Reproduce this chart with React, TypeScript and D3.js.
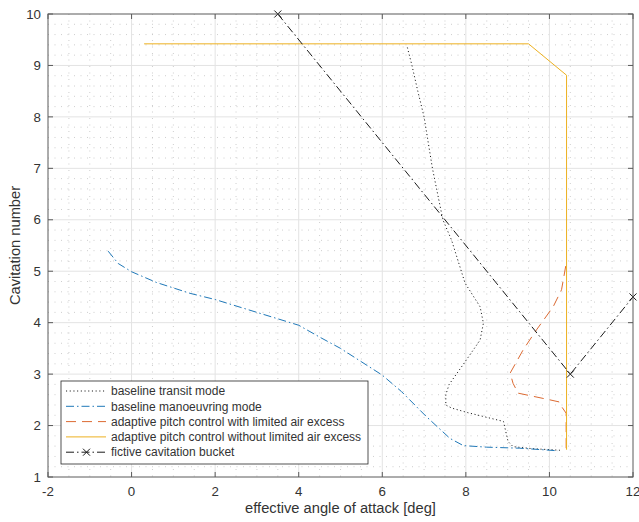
import React from "react";
import * as d3 from "d3";

const xTicks = [-2, 0, 2, 4, 6, 8, 10, 12];
const yTicks = [1, 2, 3, 4, 5, 6, 7, 8, 9, 10];

const transitX = [6.6, 6.71, 6.85, 7.0, 7.2, 7.45, 7.66, 7.98, 8.34, 8.42, 8.34, 7.93, 7.6, 7.52, 7.52, 7.66, 8.05, 8.9, 9.01, 9.13, 9.6, 10.25];
const transitY = [9.35, 9.0, 8.5, 8.0, 7.0, 6.0, 5.6, 4.77, 4.31, 3.99, 3.66, 3.18, 2.8, 2.6, 2.4, 2.34, 2.25, 2.08, 1.69, 1.59, 1.55, 1.52];

const manoX = [-0.56, -0.32, 0.0, 0.6, 1.4, 2.0, 3.0, 4.0, 4.5, 5.0, 6.0, 6.46, 7.06, 7.62, 7.94, 8.5, 9.29, 10.2];
const manoY = [5.39, 5.15, 4.99, 4.78, 4.57, 4.45, 4.2, 3.95, 3.72, 3.5, 2.98, 2.66, 2.17, 1.75, 1.61, 1.58, 1.56, 1.51];

const limitedX = [10.39, 10.29, 10.09, 9.69, 9.37, 9.06, 9.13, 9.25, 10.01, 10.23, 10.29, 10.4, 10.4];
const limitedY = [5.1, 4.64, 4.31, 3.86, 3.47, 3.02, 2.82, 2.63, 2.5, 2.46, 2.37, 2.24, 1.55];

const unlimitedX = [0.3, 9.5, 10.41, 10.41];
const unlimitedY = [9.42, 9.42, 8.81, 1.53];

const bucketX = [3.5, 10.5, 12];
const bucketY = [10, 3.0, 4.5];

const W = 639;
const H = 522;
const L = 48, R = 633, T = 14, B = 477;

const FONT = "'Liberation Sans', Arial, Helvetica, sans-serif";
const TXT = "#333333";

type S = { name: string; xs: number[]; ys: number[]; color: string; dash: string; marker?: boolean };

const series: S[] = [
  { name: "baseline transit mode", xs: transitX, ys: transitY, color: "#1a1a1a", dash: "1.1,2.6" },
  { name: "baseline manoeuvring mode", xs: manoX, ys: manoY, color: "#1f78b8", dash: "8,3,1.5,3" },
  { name: "adaptive pitch control with limited air excess", xs: limitedX, ys: limitedY, color: "#dc6a32", dash: "10,6" },
  { name: "adaptive pitch control without limited air excess", xs: unlimitedX, ys: unlimitedY, color: "#EDB120", dash: "" },
  { name: "fictive cavitation bucket", xs: bucketX, ys: bucketY, color: "#1a1a1a", dash: "8,3,1.5,3", marker: true },
];

export default function App() {
  const x = d3.scaleLinear().domain([-2, 12]).range([L, R]);
  const y = d3.scaleLinear().domain([1, 10]).range([B, T]);

  const minorX = d3.range(-2, 12.001, 0.5).filter((v) => Math.abs(v / 2 - Math.round(v / 2)) > 1e-6);
  const minorY = d3.range(1, 10.001, 0.2).filter((v) => Math.abs(v - Math.round(v)) > 1e-6);

  const line = d3.line<[number, number]>().x((d) => x(d[0])).y((d) => y(d[1]));

  const xMark = (cx: number, cy: number, s: number, color: string, key: string) => (
    <path key={key} d={`M${cx - s},${cy - s}L${cx + s},${cy + s}M${cx - s},${cy + s}L${cx + s},${cy - s}`} stroke={color} strokeWidth={1} fill="none" />
  );

  const legX = 61, legY = 381, legW = 307, legH = 83;
  const rowY = (i: number) => 391 + i * 15.3;

  return (
    <svg width={W} height={H} style={{ position: "absolute", left: 0, top: 0, display: "block" }} fontFamily={FONT}>
      <rect x={0} y={0} width={W} height={H} fill="#fff" />
      {/* minor grid */}
      <g stroke="#c2c2c2" strokeWidth={0.8} strokeDasharray="1,5.5" fill="none">
        {minorX.map((v) => (
          <line key={"mx" + v} x1={x(v)} x2={x(v)} y1={T} y2={B} />
        ))}
        {minorY.map((v) => (
          <line key={"my" + v} x1={L} x2={R} y1={y(v)} y2={y(v)} />
        ))}
      </g>
      {/* major grid */}
      <g stroke="#e3e3e3" strokeWidth={1} fill="none">
        {xTicks.slice(1, -1).map((v) => (
          <line key={"gx" + v} x1={x(v)} x2={x(v)} y1={T} y2={B} />
        ))}
        {yTicks.slice(1, -1).map((v) => (
          <line key={"gy" + v} x1={L} x2={R} y1={y(v)} y2={y(v)} />
        ))}
      </g>
      {/* series */}
      <g fill="none">
        {series.map((s) => (
          <path
            key={s.name}
            d={line(s.xs.map((v, i) => [v, s.ys[i]] as [number, number])) || ""}
            stroke={s.color}
            strokeWidth={1}
            strokeDasharray={s.dash || undefined}
          />
        ))}
        {series
          .filter((s) => s.marker)
          .map((s) => s.xs.map((v, i) => xMark(x(v), y(s.ys[i]), 3.5, s.color, s.name + i)))}
      </g>
      {/* axes box */}
      <rect x={L} y={T} width={R - L} height={B - T} fill="none" stroke="#5a5a5a" strokeWidth={1} />
      <g stroke="#5a5a5a" strokeWidth={1}>
        {xTicks.map((v) => (
          <g key={"tx" + v}>
            <line x1={x(v)} x2={x(v)} y1={B} y2={B - 5} />
            <line x1={x(v)} x2={x(v)} y1={T} y2={T + 5} />
          </g>
        ))}
        {yTicks.map((v) => (
          <g key={"ty" + v}>
            <line x1={L} x2={L + 5} y1={y(v)} y2={y(v)} />
            <line x1={R} x2={R - 5} y1={y(v)} y2={y(v)} />
          </g>
        ))}
      </g>
      {/* tick labels */}
      <g fill={TXT} fontSize={13.3}>
        {xTicks.map((v) => (
          <text key={"lx" + v} x={x(v)} y={496} textAnchor="middle">
            {v}
          </text>
        ))}
        {yTicks.map((v) => (
          <text key={"ly" + v} x={41} y={y(v) + 4.7} textAnchor="end">
            {v}
          </text>
        ))}
      </g>
      <text x={(L + R) / 2} y={513} textAnchor="middle" fontSize={14.7} fill={TXT}>
        effective angle of attack [deg]
      </text>
      <text transform={`translate(20,${(T + B) / 2}) rotate(-90)`} textAnchor="middle" fontSize={14.7} fill={TXT}>
        Cavitation number
      </text>
      {/* legend */}
      <rect x={legX} y={legY} width={legW} height={legH} fill="#fff" stroke="#262626" strokeWidth={0.8} />
      {series.map((s, i) => (
        <g key={"leg" + i}>
          <line x1={66} x2={106} y1={rowY(i)} y2={rowY(i)} stroke={s.color} strokeWidth={1} strokeDasharray={s.dash || undefined} />
          {s.marker && xMark(86.5, rowY(i), 3.5, s.color, "lm" + i)}
          <text x={111} y={rowY(i) + 4.2} fontSize={12} fill={TXT}>
            {s.name}
          </text>
        </g>
      ))}
    </svg>
  );
}
